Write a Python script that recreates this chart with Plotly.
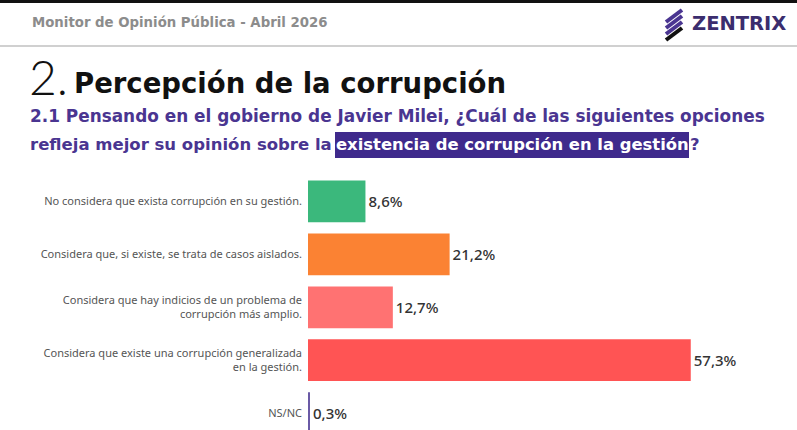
import plotly.graph_objects as go

# datos
categorias = [
    "No considera que exista corrupción en su gestión.",
    "Considera que, si existe, se trata de casos aislados.",
    "Considera que hay indicios de un problema de<br>corrupción más amplio.",
    "Considera que existe una corrupción generalizada<br>en la gestión.",
    "NS/NC",
]
valores = [8.6, 21.2, 12.7, 57.3, 0.3]
colores = ["#3bb87c", "#fb8233", "#ff7272", "#ff5454", "#6a5aa6"]

W, H = 797, 430
L, T = 308, 170  # margen del área de dibujo


def px(x):
    return (x - L) / (W - L)


def py(y):
    return (H - y) / (H - T)


etiquetas = [f"{v:.1f}".replace(".", ",") + "%" for v in valores]

fig = go.Figure()
fig.add_trace(go.Bar(
    x=valores,
    y=categorias,
    orientation="h",
    marker=dict(color=colores, line_width=0),
    width=0.79,
    text=etiquetas,
    textposition="outside",
    textfont=dict(family="Noto Sans", size=15, color="#333333", weight=500),
    cliponaxis=False,
    hoverinfo="skip",
))

fig.update_layout(
    width=W, height=H,
    margin=dict(l=L, r=0, t=T, b=0),
    paper_bgcolor="white",
    plot_bgcolor="white",
    showlegend=False,
    xaxis=dict(range=[0, (W - L) / 6.68], visible=False),
    yaxis=dict(
        range=[4.32, -0.595],
        showgrid=False, zeroline=False, showline=False,
        ticks="", ticklabelstandoff=5,
        tickfont=dict(family="Noto Sans", size=11, color="#555555"),
    ),
)

shapes = [
    # franja negra superior
    dict(type="rect", xref="paper", yref="paper", x0=px(0), x1=px(W),
         y0=py(3), y1=py(0), fillcolor="#111111", line_width=0),
    # línea separadora del encabezado
    dict(type="line", xref="paper", yref="paper", x0=px(0), x1=px(W),
         y0=py(46), y1=py(46), line=dict(color="#d0d0d0", width=2)),
    # recuadro resaltado
    dict(type="rect", xref="paper", yref="paper", x0=px(335), x1=px(689),
         y0=py(158), y1=py(132), fillcolor="#3f2a8c", line_width=0),
]
# logo: franjas diagonales
for k, c in enumerate(["#4a3591", "#4a3591", "#4a3591", "#111111"]):
    shapes.append(dict(
        type="line", xref="paper", yref="paper",
        x0=px(682), y0=py(10 + 6 * k), x1=px(666), y1=py(22 + 6 * k),
        line=dict(color=c, width=4)))

annotations = [
    dict(text="Monitor de Opinión Pública - Abril 2026", x=px(30), y=py(22),
         xanchor="left", yanchor="middle",
         font=dict(family="DejaVu Sans", size=13.3, color="#8c8c8c", weight=700)),
    dict(text="ZENTRIX", x=px(690), y=py(23), xanchor="left", yanchor="middle",
         font=dict(family="DejaVu Sans", size=19.5, color="#3b2d6e", weight=700)),
    dict(text="2.", x=px(27), y=py(107), xanchor="left", yanchor="bottom",
         font=dict(family="Lato", size=48, color="#111111", weight=300)),
    dict(text="Percepción de la corrupción", x=px(72), y=py(101), xanchor="left", yanchor="bottom",
         font=dict(family="DejaVu Sans", size=27.5, color="#111111", weight=700)),
    dict(text="2.1 Pensando en el gobierno de Javier Milei, ¿Cuál de las siguientes opciones",
         x=px(28), y=py(116), xanchor="left", yanchor="middle",
         font=dict(family="DejaVu Sans", size=16.9, color="#4a3591", weight=700)),
    dict(text="refleja mejor su opinión sobre la", x=px(28), y=py(145),
         xanchor="left", yanchor="middle",
         font=dict(family="DejaVu Sans", size=16.5, color="#4a3591", weight=700)),
    dict(text="existencia de corrupción en la gestión", x=px(512), y=py(145),
         xanchor="center", yanchor="middle",
         font=dict(family="DejaVu Sans", size=16.4, color="white", weight=700)),
    dict(text="?", x=px(688), y=py(145), xanchor="left", yanchor="middle",
         font=dict(family="DejaVu Sans", size=16.5, color="#4a3591", weight=700)),
]
for a in annotations:
    a.update(xref="paper", yref="paper", showarrow=False)

fig.update_layout(shapes=shapes, annotations=annotations)

fig.write_html("out.html", config={"displayModeBar": False},
               post_script="document.body.style.margin='0';document.body.style.overflow='hidden';")
